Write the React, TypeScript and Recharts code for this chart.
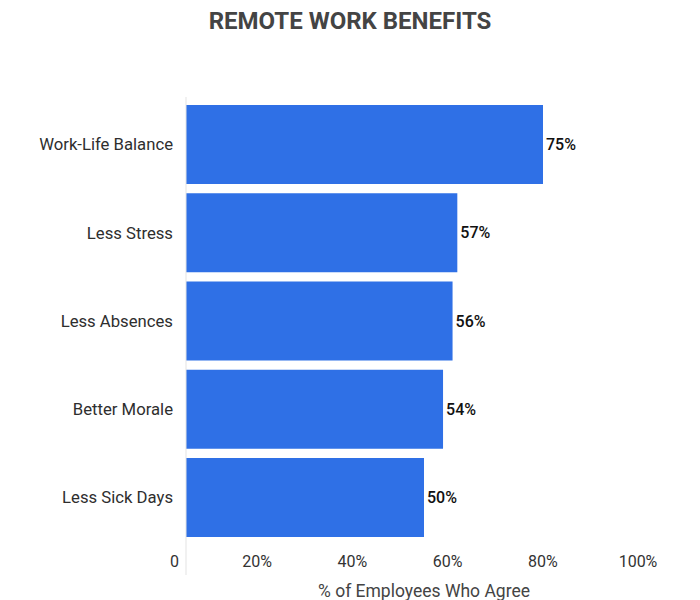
import React from "react";
import { BarChart, Bar, XAxis, YAxis, LabelList } from "recharts";

const categories = ["Work-Life Balance", "Less Stress", "Less Absences", "Better Morale", "Less Sick Days"];
const values = [75, 57, 56, 54, 50];
const xTicks = [0, 20, 40, 60, 80, 100];

const data = categories.map((name, i) => ({ name, value: values[i] }));

const FONT = "Roboto, 'Noto Sans', sans-serif";

const XTick = (props: any) => {
  const { x, y, payload } = props;
  const v = payload.value;
  const isZero = v === 0;
  return (
    <text
      x={x}
      y={y}
      dx={isZero ? -7 : -24}
      dy={-14}
      textAnchor={isZero ? "end" : "middle"}
      dominantBaseline="central"
      fontSize={16}
      fontFamily={FONT}
      fill="#333"
    >
      {isZero ? "0" : `${v}%`}
    </text>
  );
};

export default function App() {
  return (
    <div style={{ position: "absolute", left: 0, top: 0, width: 700, height: 600, background: "#fff" }}>
      <div
        style={{
          position: "absolute",
          top: 7,
          left: 0,
          width: 700,
          textAlign: "center",
          fontFamily: FONT,
          fontWeight: 700,
          fontSize: 24,
          color: "#444",
          lineHeight: "28px",
        }}
      >
        REMOTE WORK BENEFITS
      </div>
      <BarChart
        width={700}
        height={600}
        data={data}
        layout="vertical"
        margin={{ top: 97, right: 38, left: 0, bottom: 0 }}
        barCategoryGap="5.2%"
      >
        <XAxis
          type="number"
          domain={[0, 100]}
          ticks={xTicks}
          axisLine={false}
          tickLine={false}
          tickSize={0}
          tickMargin={0}
          height={25}
          tick={<XTick />}
          interval={0}
          label={{
            value: "% of Employees Who Agree",
            position: "insideBottom",
            offset: 3,
            fontSize: 17.5,
            fontFamily: FONT,
            fill: "#444",
          }}
        />
        <YAxis
          type="category"
          dataKey="name"
          width={186}
          axisLine={{ stroke: "#e3e3e3" }}
          tickLine={false}
          tickMargin={7}
          padding={{ top: 3.4, bottom: 33.4 }}
          tick={{ fontSize: 16.7, fontFamily: FONT, fill: "#2e2e2e" }}
        />
        <Bar dataKey="value" fill="#2F70E6" isAnimationActive={false}>
          <LabelList
            dataKey="value"
            position="right"
            offset={3}
            formatter={(v: any) => `${v}%`}
            style={{ fontSize: 16, fontFamily: FONT, fontWeight: 500, fill: "#111" }}
          />
        </Bar>
      </BarChart>
    </div>
  );
}
